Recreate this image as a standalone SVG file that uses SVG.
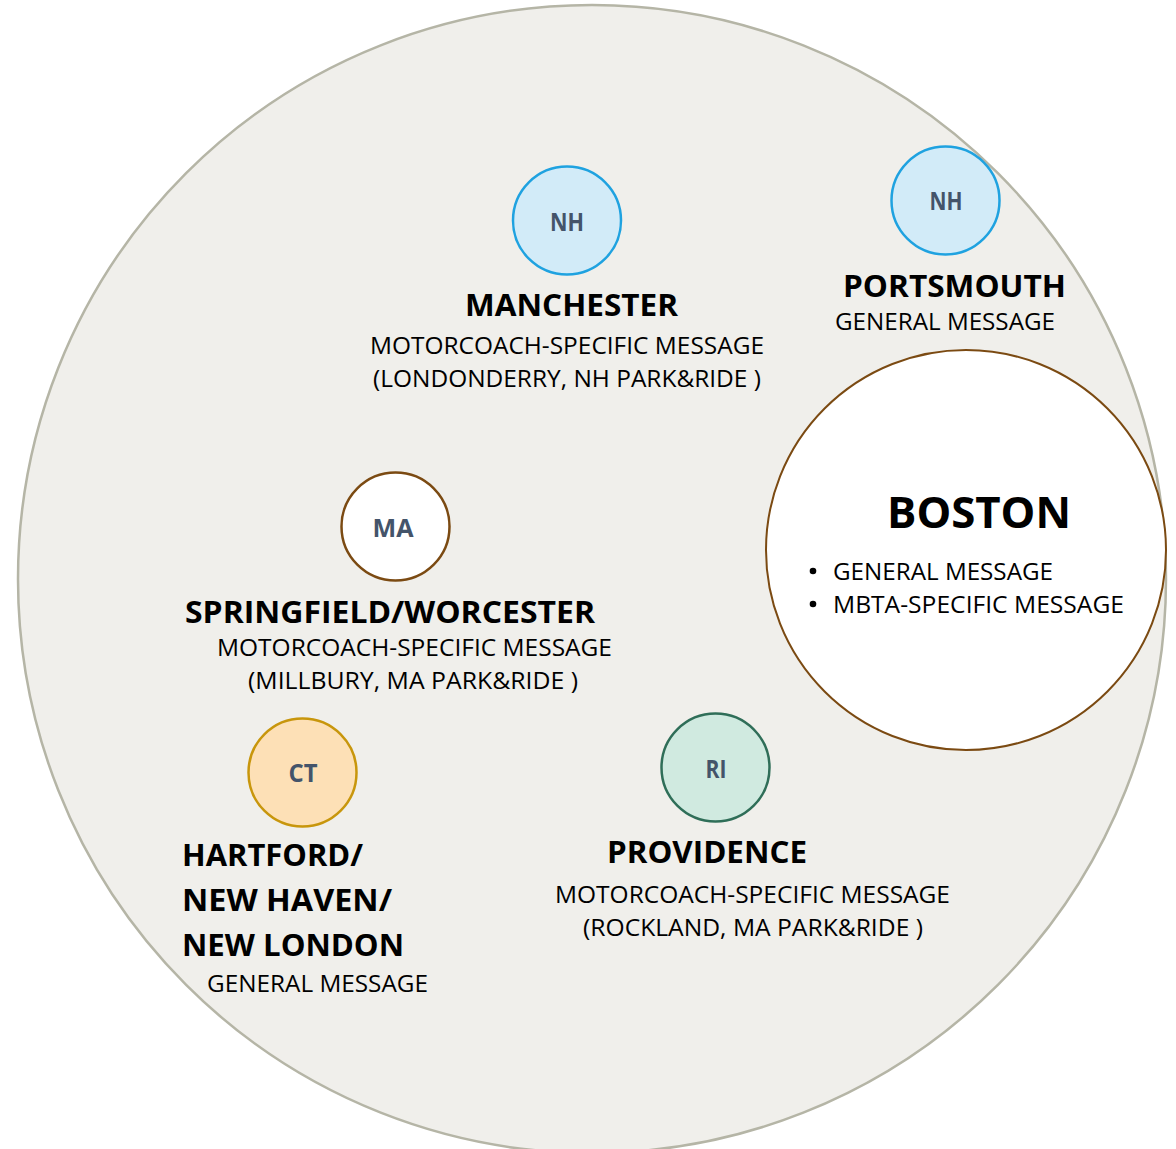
<svg xmlns="http://www.w3.org/2000/svg" width="1176" height="1149" viewBox="0 0 1176 1149">
  <style>
    text { font-family: "Open Sans", "Noto Sans", "Liberation Sans", sans-serif; fill: #000; }
    .title { font-size: 31px; font-weight: bold; }
    .sub { font-size: 23.5px; }
    .badge { font-size: 25px; font-weight: bold; fill: #44546a; text-anchor: middle; }
    .region { fill: #f0efeb; stroke: #b5b5a6; stroke-width: 2.5; }
    .nh { fill: #d2ebf8; stroke: #1fa2e0; stroke-width: 2.5; }
    .ma { fill: #ffffff; stroke: #7b4a12; stroke-width: 2.5; }
    .ct { fill: #fde0b6; stroke: #c8960c; stroke-width: 2.5; }
    .ri { fill: #d0eae0; stroke: #2f6e58; stroke-width: 2.5; }
    .hub { fill: #ffffff; stroke: #7b4a12; stroke-width: 2; }
  </style>

  <rect width="1176" height="1149" fill="#ffffff"/>

  <!-- service region -->
  <circle class="region" cx="592" cy="579" r="574"/>

  <!-- no connectors in this layout -->
  <g id="connectors"/>

  <!-- Boston hub -->
  <g id="boston">
    <circle class="hub" cx="966" cy="550" r="200"/>
    <text x="887" y="528" font-size="43" font-weight="bold" textLength="184" lengthAdjust="spacingAndGlyphs">BOSTON</text>
    <circle cx="813" cy="571" r="3.3" fill="#000"/>
    <text class="sub" x="833" y="580" textLength="220" lengthAdjust="spacingAndGlyphs">GENERAL MESSAGE</text>
    <circle cx="813" cy="604" r="3.3" fill="#000"/>
    <text class="sub" x="833" y="613" textLength="291" lengthAdjust="spacingAndGlyphs">MBTA-SPECIFIC MESSAGE</text>
  </g>

  <!-- Manchester -->
  <g id="manchester">
    <circle class="nh" cx="567" cy="220.5" r="54"/>
    <text class="badge" x="567" y="231" textLength="34" lengthAdjust="spacingAndGlyphs">NH</text>
    <text class="title" x="465" y="316" textLength="213" lengthAdjust="spacingAndGlyphs">MANCHESTER</text>
    <text class="sub" x="370" y="354" textLength="394" lengthAdjust="spacingAndGlyphs">MOTORCOACH-SPECIFIC MESSAGE</text>
    <text class="sub" x="373" y="387" textLength="388" lengthAdjust="spacingAndGlyphs">(LONDONDERRY, NH PARK&amp;RIDE )</text>
  </g>

  <!-- Portsmouth -->
  <g id="portsmouth">
    <circle class="nh" cx="945.5" cy="200.5" r="54"/>
    <text class="badge" x="946" y="210" textLength="33" lengthAdjust="spacingAndGlyphs">NH</text>
    <text class="title" x="843" y="297" textLength="223" lengthAdjust="spacingAndGlyphs">PORTSMOUTH</text>
    <text class="sub" x="835" y="330" textLength="220" lengthAdjust="spacingAndGlyphs">GENERAL MESSAGE</text>
  </g>

  <!-- Springfield / Worcester -->
  <g id="springfield-worcester">
    <circle class="ma" cx="395.5" cy="526.5" r="54"/>
    <text class="badge" x="393" y="537" textLength="41" lengthAdjust="spacingAndGlyphs">MA</text>
    <text class="title" x="185" y="623" textLength="410" lengthAdjust="spacingAndGlyphs">SPRINGFIELD/WORCESTER</text>
    <text class="sub" x="217" y="656" textLength="395" lengthAdjust="spacingAndGlyphs">MOTORCOACH-SPECIFIC MESSAGE</text>
    <text class="sub" x="248" y="689" textLength="330" lengthAdjust="spacingAndGlyphs">(MILLBURY, MA PARK&amp;RIDE )</text>
  </g>

  <!-- Hartford / New Haven / New London -->
  <g id="hartford-newhaven-newlondon">
    <circle class="ct" cx="302.5" cy="772.5" r="54"/>
    <text class="badge" x="303" y="782" textLength="29" lengthAdjust="spacingAndGlyphs">CT</text>
    <text class="title" x="182" y="866" textLength="181" lengthAdjust="spacingAndGlyphs">HARTFORD/</text>
    <text class="title" x="182" y="911" textLength="210" lengthAdjust="spacingAndGlyphs">NEW HAVEN/</text>
    <text class="title" x="182" y="956" textLength="222" lengthAdjust="spacingAndGlyphs">NEW LONDON</text>
    <text class="sub" x="207" y="992" textLength="221" lengthAdjust="spacingAndGlyphs">GENERAL MESSAGE</text>
  </g>

  <!-- Providence -->
  <g id="providence">
    <circle class="ri" cx="715.5" cy="767.5" r="54"/>
    <text class="badge" x="716" y="778" textLength="21" lengthAdjust="spacingAndGlyphs">RI</text>
    <text class="title" x="607" y="863" textLength="200" lengthAdjust="spacingAndGlyphs">PROVIDENCE</text>
    <text class="sub" x="555" y="903" textLength="395" lengthAdjust="spacingAndGlyphs">MOTORCOACH-SPECIFIC MESSAGE</text>
    <text class="sub" x="583" y="936" textLength="340" lengthAdjust="spacingAndGlyphs">(ROCKLAND, MA PARK&amp;RIDE )</text>
  </g>
</svg>
